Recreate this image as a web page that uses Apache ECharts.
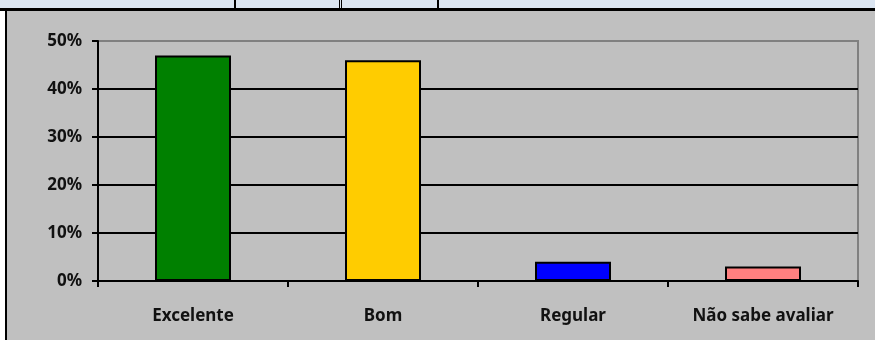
<!DOCTYPE html>
<html>
<head>
<meta charset="utf-8">
<script src="https://cdn.jsdelivr.net/npm/echarts@6/dist/echarts.min.js"></script>
<style>
  html, body { margin: 0; padding: 0; background: #ffffff; }
  #chart { width: 875px; height: 340px; }
</style>
</head>
<body>
<div id="chart"></div>
<script>
// Survey answers and their share of responses (percent)
const categories = ['Excelente', 'Bom', 'Regular', 'Não sabe avaliar'];
const shares = [47, 46, 4, 3];
const barColors = ['#008000', '#ffcc00', '#0000ff', '#ff8080'];
const yTicks = [0, 10, 20, 30, 40, 50];

const chart = echarts.init(document.getElementById('chart'), null, { renderer: 'canvas' });

const fontFamily = '"Noto Sans", "Open Sans", sans-serif';

chart.setOption({
  backgroundColor: '#c0c0c0',
  animation: false,
  graphic: [
    // white margin on the left and the table strip above the chart
    { type: 'rect', left: 0, top: 0, shape: { width: 5, height: 340 }, style: { fill: '#ffffff' }, z: 0 },
    { type: 'rect', left: 0, top: 0, shape: { width: 875, height: 8 }, style: { fill: '#dbe5f1' }, z: 0 },
    { type: 'rect', left: 0, top: 8, shape: { width: 875, height: 3 }, style: { fill: '#000000' }, z: 1 },
    { type: 'rect', left: 5, top: 8, shape: { width: 2, height: 332 }, style: { fill: '#000000' }, z: 1 },
    { type: 'rect', left: 234, top: 0, shape: { width: 2, height: 9 }, style: { fill: '#000000' }, z: 1 },
    { type: 'rect', left: 339, top: 0, shape: { width: 1, height: 9 }, style: { fill: '#000000' }, z: 1 },
    { type: 'rect', left: 341, top: 0, shape: { width: 1, height: 9 }, style: { fill: '#000000' }, z: 1 },
    { type: 'rect', left: 437, top: 0, shape: { width: 2, height: 9 }, style: { fill: '#000000' }, z: 1 }
  ],
  grid: {
    left: 98, right: 17, top: 41, bottom: 59,
    show: true, borderColor: '#808080', borderWidth: 2, backgroundColor: 'transparent'
  },
  xAxis: {
    type: 'category',
    data: categories,
    boundaryGap: true,
    axisLine: { lineStyle: { color: '#000000', width: 2 } },
    axisTick: { show: true, inside: false, length: 6, lineStyle: { color: '#000000', width: 2 }, alignWithLabel: false },
    axisLabel: { color: '#111111', fontFamily, fontWeight: 'bold', fontSize: 17, margin: 27 }
  },
  yAxis: {
    type: 'value',
    min: 0, max: 50, interval: 10,
    axisLine: { show: true, lineStyle: { color: '#000000', width: 2 } },
    axisTick: { show: true, inside: false, length: 6, lineStyle: { color: '#000000', width: 2 } },
    axisLabel: { color: '#111111', fontFamily, fontWeight: 'bold', fontSize: 17, margin: 16,
      formatter: v => yTicks.includes(v) ? v + '%' : '' },
    splitLine: { show: true, lineStyle: { color: ['#000000', '#000000', '#000000', '#000000', '#000000', '#808080'], width: 2 } }
  },
  series: [{
    type: 'bar',
    barWidth: '40%',
    data: shares.map((v, i) => ({
      value: v,
      itemStyle: { color: barColors[i], borderColor: '#000000', borderWidth: 2 }
    }))
  }]
});
</script>
</body>
</html>
